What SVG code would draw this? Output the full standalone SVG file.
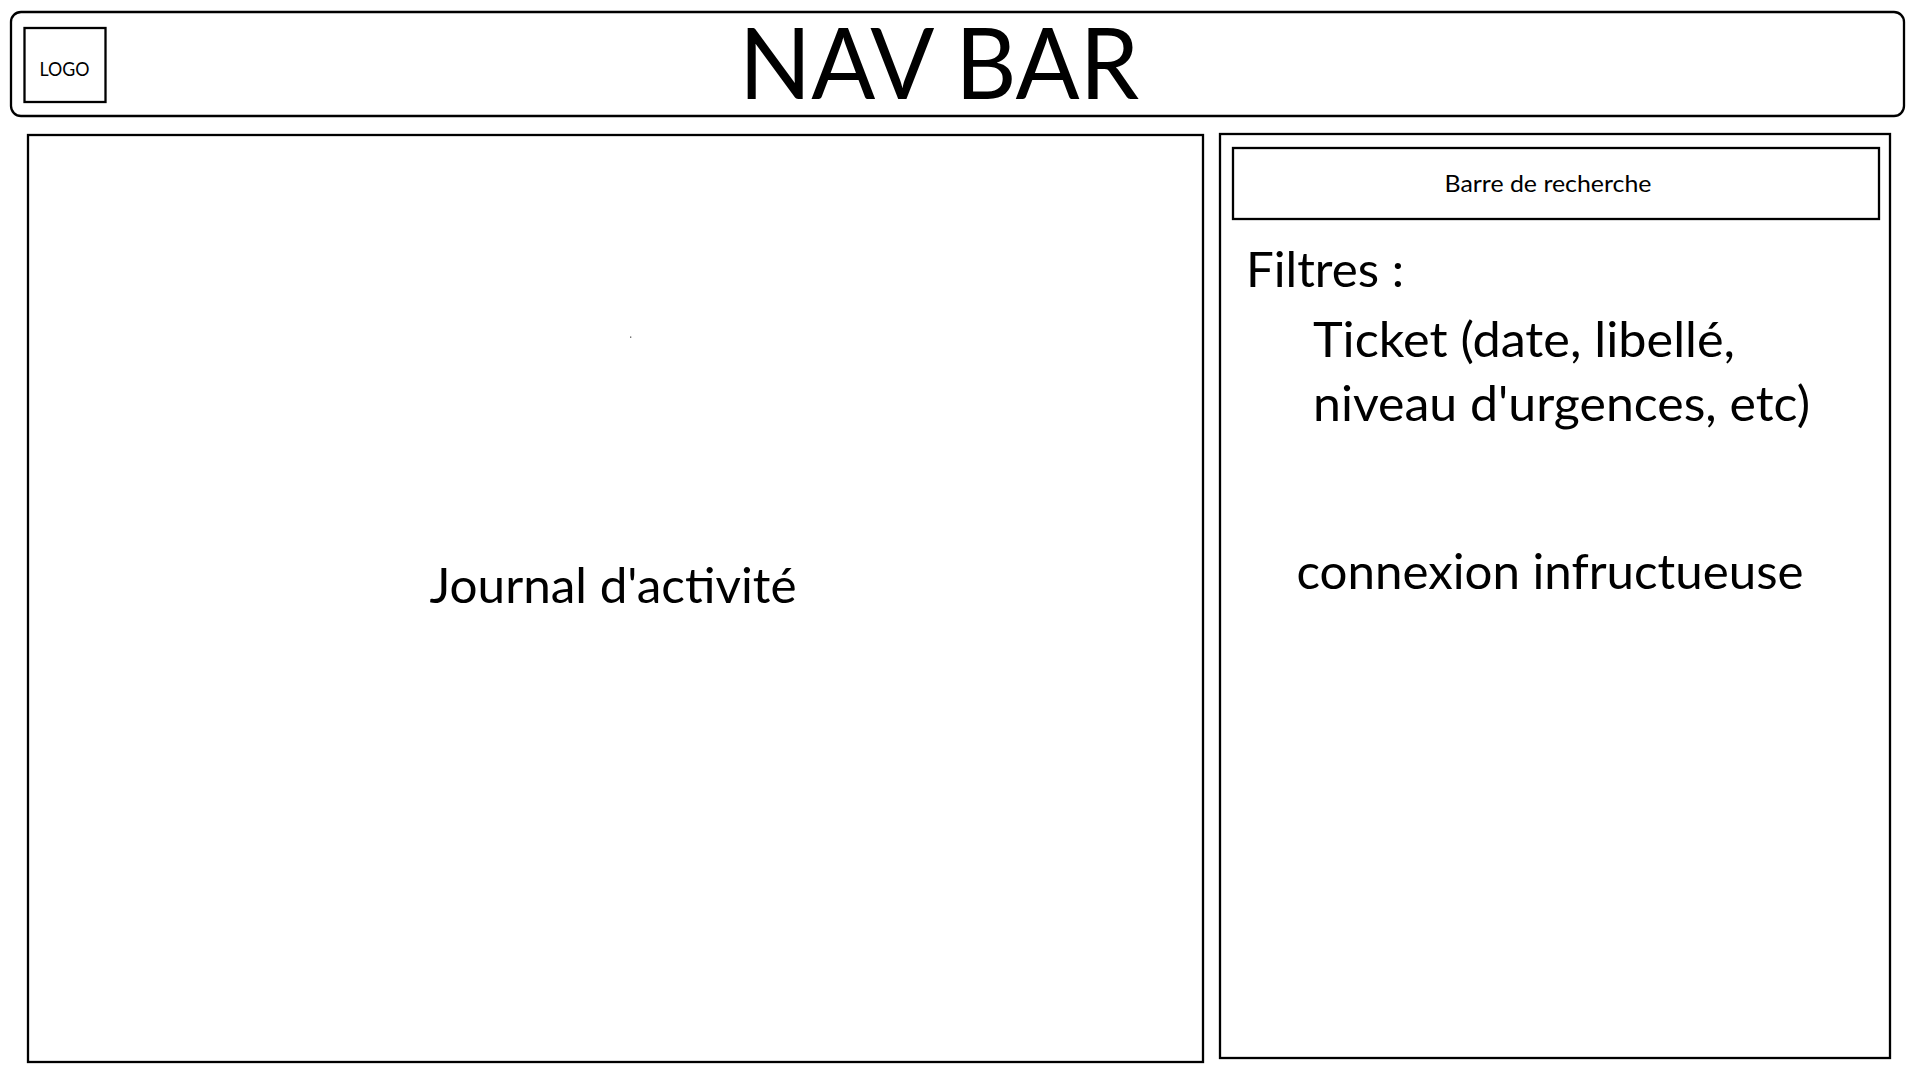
<svg xmlns="http://www.w3.org/2000/svg" width="1920" height="1080" viewBox="0 0 1920 1080">
  <style>
    .box { fill: #ffffff; stroke: #000000; stroke-width: 2.3; }
    .t { font-family: Lato, "Open Sans", "Liberation Sans", sans-serif; fill: #000000; }
    .body { font-size: 47.5px; }
  </style>
  <rect x="0" y="0" width="1920" height="1080" fill="#ffffff"/>

  <g id="navbar">
    <rect class="box" x="11" y="12" width="1893" height="104" rx="10" ry="10"/>
    <text class="t" x="939" y="99" font-size="99" text-anchor="middle" textLength="400" lengthAdjust="spacingAndGlyphs">NAV BAR</text>
  </g>

  <g id="logo">
    <rect class="box" x="24.5" y="28" width="81" height="74"/>
    <text class="t" x="64.5" y="75.7" font-size="19.5" text-anchor="middle" textLength="50" lengthAdjust="spacingAndGlyphs">LOGO</text>
  </g>

  <g id="journal">
    <rect class="box" x="28" y="135" width="1175" height="927"/>
    <rect x="630" y="336.5" width="1.3" height="1.3" fill="#555555"/>
    <text class="t body" x="613" y="603" text-anchor="middle" textLength="367" lengthAdjust="spacingAndGlyphs">Journal d'activité</text>
  </g>

  <g id="sidebar">
    <rect class="box" x="1220" y="134" width="670" height="924"/>
    <text class="t body" x="1246" y="287" textLength="158" lengthAdjust="spacingAndGlyphs">Filtres :</text>
    <text class="t body" x="1313" y="357" textLength="422" lengthAdjust="spacingAndGlyphs">Ticket (date, libellé,</text>
    <text class="t body" x="1313" y="421" textLength="497" lengthAdjust="spacingAndGlyphs">niveau d'urgences, etc)</text>
    <text class="t body" x="1550" y="589" text-anchor="middle" textLength="507" lengthAdjust="spacingAndGlyphs">connexion infructueuse</text>
  </g>

  <g id="searchbar">
    <rect class="box" x="1233" y="148" width="646" height="71"/>
    <text class="t" x="1548" y="191.7" font-size="23.3" text-anchor="middle" textLength="207" lengthAdjust="spacingAndGlyphs">Barre de recherche</text>
  </g>

  <g id="connectors"></g>
</svg>
